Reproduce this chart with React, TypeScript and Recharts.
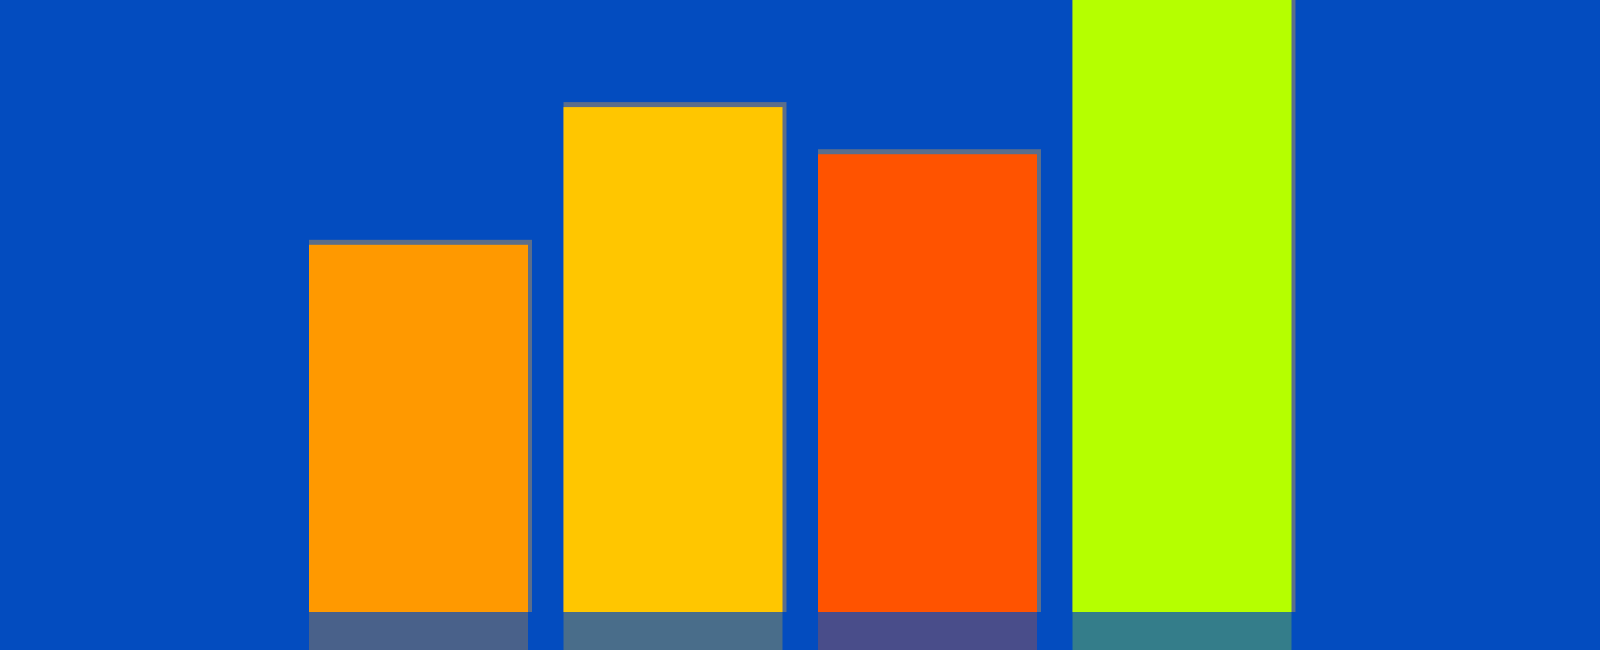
import { BarChart, Bar, XAxis, YAxis, Cell } from 'recharts'

const categories = ['A', 'B', 'C', 'D']
const values = [60, 82.5, 74.8, 100]
const colors = ['#FF9900', '#FFC600', '#FF5300', '#B5FF00']

const data = categories.map((name, i) => ({ name, value: values[i] }))

// bar with a soft shadow and a faint reflection under the baseline
function ReflectedBar(props: any) {
  const { x, y, width, height, fill } = props
  if (!height || height <= 0) return null
  return (
    <g>
      <rect x={x} y={y - 5} width={width + 4} height={height + 5} fill="#7a7a7a" opacity={0.75} />
      <rect x={x} y={y} width={width} height={height} fill={fill} />
      <rect x={x} y={y + height} width={width} height={height} fill={fill} opacity={0.28} />
    </g>
  )
}

export default function App() {
  return (
    <div style={{ position: 'fixed', left: 0, top: 0, width: 1600, height: 650, background: '#034CBF' }}>
      <BarChart
        width={1600}
        height={650}
        data={data}
        margin={{ top: 0, right: 291, left: 291, bottom: 38 }}
      >
        <XAxis dataKey="name" hide />
        <YAxis hide domain={[0, 100]} />
        <Bar dataKey="value" barSize={219} shape={<ReflectedBar />} isAnimationActive={false}>
          {data.map((d, i) => (
            <Cell key={d.name} fill={colors[i]} />
          ))}
        </Bar>
      </BarChart>
    </div>
  )
}
